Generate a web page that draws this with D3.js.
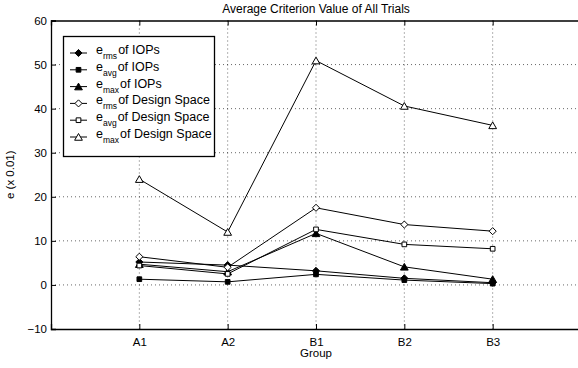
<!DOCTYPE html>
<html><head><meta charset="utf-8">
<script src="https://cdn.jsdelivr.net/npm/d3@7"></script>
<style>body{margin:0;background:#fff;}svg{display:block;font-family:"Liberation Sans",Arial,sans-serif;}</style>
</head><body>
<svg id="c" width="578" height="368"></svg>
<script>
const groups = ["A1","A2","B1","B2","B3"];
const yTicks = [-10,0,10,20,30,40,50,60];
const sub = ["rms","avg","max","rms","avg","max"];
const suffix = ["of IOPs","of IOPs","of IOPs","of Design Space","of Design Space","of Design Space"];
const markers = ["diamond","square","triangle","diamond","square","triangle"];
const filled = [true,true,true,false,false,false];
const iopRms = [5.2, 4.5, 3.2, 1.5, 0.5];
const iopAvg = [1.3, 0.7, 2.4, 1.1, 0.3];
const iopMax = [4.7, 3.0, 11.7, 4.1, 1.3];
const dsRms = [6.4, 4.0, 17.5, 13.7, 12.2];
const dsAvg = [4.4, 2.5, 12.6, 9.2, 8.2];
const dsMax = [24.0, 12.0, 50.9, 40.6, 36.2];
const series = [iopRms, iopAvg, iopMax, dsRms, dsAvg, dsMax];

const svg = d3.select("#c");
const L = 51, R = 581, T = 20.5, B = 329;
const x = d3.scaleLinear().domain([0,6]).range([L,R]);
const y = d3.scaleLinear().domain([-10,60]).range([B,T]);

// grid
const g = svg.append("g");
groups.forEach((d,i)=>{
  g.append("line").attr("x1",x(i+1)).attr("x2",x(i+1)).attr("y1",T).attr("y2",B)
   .attr("stroke","#000").attr("stroke-width",0.6).attr("stroke-dasharray","1,3");
});
yTicks.forEach(v=>{
  if(v===-10||v===60) return;
  g.append("line").attr("x1",L).attr("x2",R).attr("y1",y(v)).attr("y2",y(v))
   .attr("stroke","#000").attr("stroke-width",0.6).attr("stroke-dasharray","1,3");
});

// axes
const xAxis = d3.axisBottom(x).tickValues([1,2,3,4,5]).tickFormat(d=>groups[d-1]).tickSize(-5).tickPadding(9);
const xg = svg.append("g").attr("transform",`translate(0,${B})`).call(xAxis);
const xTop = d3.axisTop(x).tickValues([1,2,3,4,5]).tickFormat("").tickSize(-5);
const xtg = svg.append("g").attr("transform",`translate(0,${T})`).call(xTop);
const yAxis = d3.axisLeft(y).tickValues(yTicks).tickFormat(d=>d<0?"\u2212"+Math.abs(d):d).tickSize(-5).tickPadding(4);
const yg = svg.append("g").attr("transform",`translate(${L},0)`).call(yAxis);
[xg,xtg,yg].forEach(a=>{
  a.select(".domain").attr("stroke","#000").attr("stroke-width",1.3);
  a.selectAll(".tick line").attr("stroke","#000").attr("stroke-width",1);
  a.selectAll("text").attr("font-size",11.5).attr("fill","#000").attr("font-family","Liberation Sans, Arial, sans-serif");
});

// titles
svg.append("text").attr("x",(L+R)/2).attr("y",13).attr("text-anchor","middle").attr("font-size",12).text("Average Criterion Value of All Trials");
svg.append("text").attr("x",(L+R)/2).attr("y",357).attr("text-anchor","middle").attr("font-size",11.5).text("Group");
svg.append("text").attr("transform",`translate(14,${(T+B)/2}) rotate(-90)`).attr("text-anchor","middle").attr("font-size",11.5).text("e (x 0.01)");

function sym(type){
  if(type==="diamond") return d3.symbol().type(d3.symbolDiamond2).size(32)();
  if(type==="square") return d3.symbol().type(d3.symbolSquare).size(22)();
  return d3.symbol().type(d3.symbolTriangle).size(26)();
}

const line = d3.line().x((d,i)=>x(i+1)).y(d=>y(d));
series.forEach((s,k)=>{
  svg.append("path").attr("d",line(s)).attr("fill","none").attr("stroke","#000").attr("stroke-width",1);
  s.forEach((v,i)=>{
    svg.append("path").attr("d",sym(markers[k])).attr("transform",`translate(${x(i+1)},${y(v)+(markers[k]==="triangle"?1:0)})`)
      .attr("fill",filled[k]?"#000":"#fff").attr("stroke","#000").attr("stroke-width",1);
  });
});

// legend
const lg = svg.append("g");
lg.append("rect").attr("x",63.5).attr("y",36.5).attr("width",151).attr("height",120).attr("fill","#fff").attr("stroke","#000").attr("stroke-width",1.3);
for(let k=0;k<6;k++){
  const yy = 53 + k*16.8;
  lg.append("line").attr("x1",70).attr("x2",87).attr("y1",yy).attr("y2",yy).attr("stroke","#000").attr("stroke-width",1);
  lg.append("path").attr("d",sym(markers[k])).attr("transform",`translate(78.5,${yy+(markers[k]==="triangle"?1:0)})`)
    .attr("fill",filled[k]?"#000":"#fff").attr("stroke","#000").attr("stroke-width",1);
  const t = lg.append("text").attr("x",96).attr("y",yy+1).attr("font-size",12.5);
  t.append("tspan").text("e");
  t.append("tspan").attr("dy",5).attr("font-size",8.5).text(sub[k]);
  t.append("tspan").attr("dy",-5).attr("dx",1).text(suffix[k]);
}
</script>
</body></html>
